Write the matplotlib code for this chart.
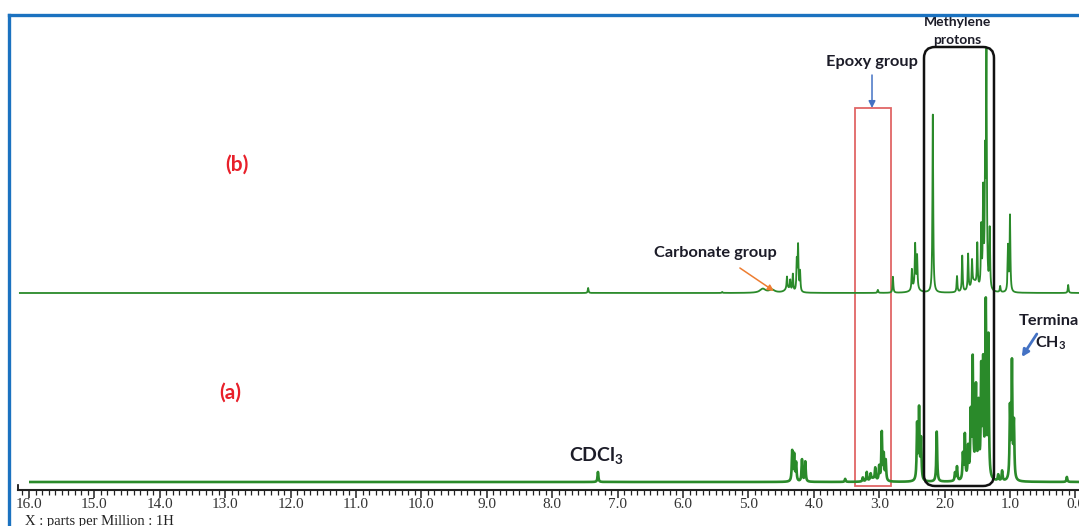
import numpy as np
import matplotlib.pyplot as plt
from matplotlib.patches import Rectangle, FancyBboxPatch
from matplotlib.lines import Line2D
from matplotlib.transforms import IdentityTransform
from matplotlib.ticker import MultipleLocator, FormatStrFormatter

plt.rcParams['font.family'] = ['Liberation Serif', 'DejaVu Serif']
plt.rcParams['mathtext.fontset'] = 'custom'
plt.rcParams['mathtext.rm'] = 'Lato:bold'
plt.rcParams['mathtext.it'] = 'Lato:bold'

# (b) top trace: sharp lines (ppm, height)
shift_b = [7.45, 5.40, 4.41, 4.36, 4.32, 4.26, 4.24, 4.21, 3.02, 2.79,
           2.50, 2.45, 2.42, 2.18, 1.81, 1.73, 1.64, 1.58, 1.50, 1.44,
           1.41, 1.38, 1.36, 1.31, 1.15, 1.03, 1.00, 0.11]
height_b = [5, 1, 12, 10, 17, 30, 45, 20, 3, 16,
            20, 42, 32, 178, 16, 36, 36, 25, 43, 60,
            95, 120, 228, 60, 6, 45, 76, 8]
# (b) broad humps
hump_shift_b = [4.78, 4.64, 4.40, 2.45, 1.55]
hump_height_b = [4, 3, 4, 6, 10]

# (a) bottom trace: sharp lines (ppm, height)
shift_a = [7.30, 4.33, 4.30, 4.27, 4.18, 4.13, 3.52, 3.25, 3.19, 3.13,
           3.06, 3.00, 2.96, 2.93, 2.90, 2.42, 2.39, 2.36, 2.12, 1.84,
           1.81, 1.72, 1.69, 1.64, 1.60, 1.57, 1.52, 1.48, 1.44, 1.41,
           1.37, 1.33, 1.18, 1.12, 1.00, 0.97, 0.94, 0.13]
height_a = [10, 30, 26, 18, 22, 20, 3, 4, 9, 6,
            12, 14, 48, 25, 20, 55, 70, 40, 50, 8,
            14, 25, 44, 30, 60, 112, 85, 70, 105, 110,
            172, 140, 6, 10, 70, 115, 55, 5]
hump_shift_a = [3.10, 1.55]
hump_height_a = [3, 8]

offset_a = 8
offset_b = 197

ppm_ticks = np.arange(0, 17, 1)


def lorentz(grid, shifts, heights, hwhm):
    y = np.zeros_like(grid)
    for s, h in zip(shifts, heights):
        y += h / (1 + ((grid - s) / hwhm) ** 2)
    return y


fig = plt.figure(figsize=(10.79, 5.26), dpi=100)
ax = fig.add_axes([18 / 1079, 36 / 526, 1061 / 1079, 475 / 526])
ax.set_xlim(16.168, -0.055)
ax.set_ylim(0, 475)
ax.patch.set_alpha(0)

green = '#2a8a2a'
grid_b = np.arange(-0.06, 16.14, 0.0005)
spec_b = (lorentz(grid_b, shift_b, height_b, 0.007)
          + lorentz(grid_b, hump_shift_b, hump_height_b, 0.05))
ax.plot(grid_b, spec_b + offset_b, color=green, lw=1.3)

grid_a = np.arange(-0.06, 15.98, 0.0005)
spec_a = (lorentz(grid_a, shift_a, height_a, 0.008)
          + lorentz(grid_a, hump_shift_a, hump_height_a, 0.05))
ax.plot(grid_a, spec_a + offset_a, color=green, lw=1.9)

# axis styling, spectrometer-printout look
for side in ['top', 'right']:
    ax.spines[side].set_visible(False)
ax.spines['left'].set_bounds(0, 5)
ax.spines['left'].set_linewidth(1.2)
ax.spines['bottom'].set_linewidth(1.5)
ax.spines['bottom'].set_color('#222222')
ax.set_yticks([])
ax.set_xticks(ppm_ticks)
ax.xaxis.set_major_formatter(FormatStrFormatter('%.1f'))
ax.xaxis.set_minor_locator(MultipleLocator(0.1))
ax.tick_params(axis='x', which='major', length=6, width=1.1, pad=0,
               labelsize=11, labelcolor='#333333', color='#222222')
ax.tick_params(axis='x', which='minor', length=3.5, width=0.9, color='#222222')
ax.set_xlabel('X : parts per Million : 1H', loc='left', fontsize=10.5,
              color='#222222')
ax.xaxis.set_label_coords(7 / 1061, -31 / 475)
ax.xaxis.label.set_va('center')

# region boxes
ax.add_patch(Rectangle((2.82, 4), 0.55, 378, fill=False, ec='#e06666',
                       lw=1.3, clip_on=False))
x0, y0 = ax.transData.transform((2.315, 4))
x1, y1 = ax.transData.transform((1.245, 443))
fig.add_artist(FancyBboxPatch((x0, y0), x1 - x0, y1 - y0,
                              boxstyle='round,pad=0,rounding_size=11',
                              fill=False, ec='#111111', lw=1.8,
                              transform=IdentityTransform()))

lbl = dict(family='Lato', weight='bold', color='#1c1c28')
ax.text(12.82, 325, '(b)', ha='center', va='center', fontsize=15,
        family='Lato', weight='bold', color='#e8202a')
ax.text(12.93, 97, '(a)', ha='center', va='center', fontsize=15,
        family='Lato', weight='bold', color='#e8202a')
ax.text(5.51, 237, 'Carbonate group', ha='center', va='center',
        fontsize=11.8, **lbl)
ax.annotate('', xy=(4.61, 199), xytext=(5.13, 222),
            arrowprops=dict(arrowstyle='-|>', color='#ed7d31', lw=1.1,
                            mutation_scale=9, shrinkA=0, shrinkB=0))
ax.text(3.11, 428, 'Epoxy group', ha='center', va='center',
        fontsize=11.8, **lbl)
ax.annotate('', xy=(3.11, 382), xytext=(3.11, 415),
            arrowprops=dict(arrowstyle='-|>', color='#4472c4', lw=1.1,
                            mutation_scale=10, shrinkA=0, shrinkB=0))
ax.text(1.80, 468, 'Methylene', ha='center', va='center', fontsize=10,
        **lbl)
ax.text(1.80, 450, 'protons', ha='center', va='center', fontsize=10,
        **lbl)
ax.text(0.86, 169, 'Terminal', ha='left', va='center', fontsize=11.8,
        clip_on=False, **lbl)
ax.text(0.62, 147, 'CH$_3$', ha='left', va='center', fontsize=11.5, **lbl)
ax.annotate('', xy=(0.82, 133), xytext=(0.59, 156),
            arrowprops=dict(arrowstyle='-|>', color='#4472c4', lw=2,
                            mutation_scale=10, shrinkA=0, shrinkB=0))
ax.text(7.33, 34, 'CDCl$_3$', ha='center', va='center', fontsize=14, **lbl)

# blue frame along top and left
blue = '#1b72c0'
fig.add_artist(Line2D([9 / 1079, 1], [1 - 15 / 526, 1 - 15 / 526],
                      color=blue, lw=2.4))
fig.add_artist(Line2D([9 / 1079, 9 / 1079], [0, 1 - 15 / 526],
                      color=blue, lw=2.4))

fig.savefig('out.png', dpi=100)
